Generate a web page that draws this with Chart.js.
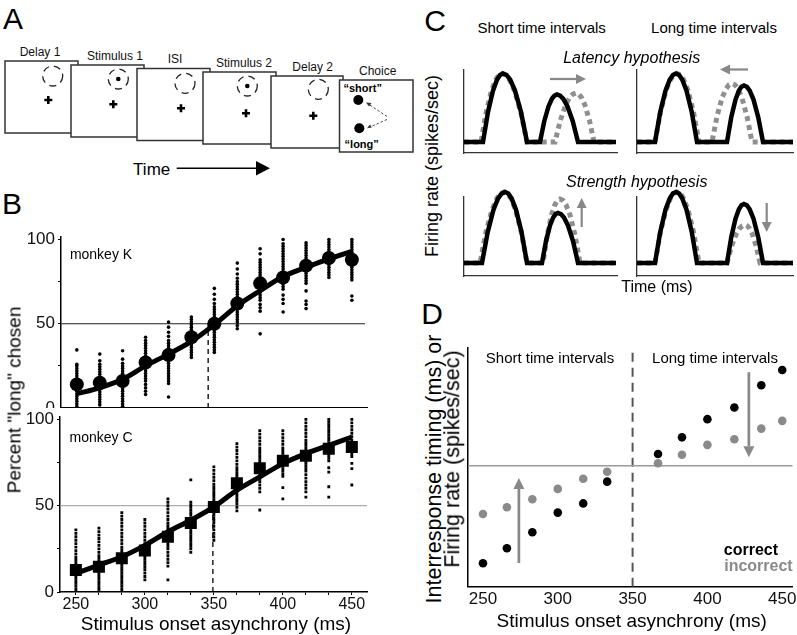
<!DOCTYPE html>
<html><head><meta charset="utf-8">
<script src="https://cdn.jsdelivr.net/npm/chart.js@4.4.1/dist/chart.umd.min.js"></script>
<style>
html,body{margin:0;padding:0;background:#fff;}
#fig{position:relative;width:797px;height:635px;overflow:hidden;font-family:"Liberation Sans",Arial,Helvetica,sans-serif;color:#000;}
.t{position:absolute;white-space:nowrap;transform:translate(-50%,-50%);line-height:1;}
.r{transform:translate(-50%,-50%) rotate(-90deg);}
.rt{position:absolute;white-space:nowrap;transform:translate(-100%,-50%);line-height:1;}
canvas{position:absolute;}
svg{position:absolute;left:0;top:0;}
</style></head><body>
<div id="fig">
<svg width="420" height="185" viewBox="0 0 420 185" font-family="Liberation Sans, Arial, sans-serif">
  <rect x="5" y="61" width="73" height="72" fill="#fff" stroke="#333" stroke-width="1.5"/>
  <circle cx="52.7" cy="76" r="10" fill="none" stroke="#222" stroke-width="1.3" stroke-dasharray="7 5"/>
  <path d="M44.3 100h8M48.3 96v8" stroke="#000" stroke-width="2.6"/>
  <rect x="71" y="65" width="73" height="72" fill="#fff" stroke="#333" stroke-width="1.5"/>
  <circle cx="118.3" cy="79" r="10" fill="none" stroke="#222" stroke-width="1.3" stroke-dasharray="7 5"/>
  <circle cx="118.3" cy="79" r="2.3" fill="#000"/>
  <path d="M109.3 104.3h8M113.3 100.3v8" stroke="#000" stroke-width="2.6"/>
  <rect x="137" y="68.5" width="73" height="72" fill="#fff" stroke="#333" stroke-width="1.5"/>
  <circle cx="185" cy="83.3" r="10" fill="none" stroke="#222" stroke-width="1.3" stroke-dasharray="7 5"/>
  <path d="M177 108.3h8M181 104.3v8" stroke="#000" stroke-width="2.6"/>
  <rect x="203" y="72" width="73" height="72" fill="#fff" stroke="#333" stroke-width="1.5"/>
  <circle cx="247.3" cy="86" r="10" fill="none" stroke="#222" stroke-width="1.3" stroke-dasharray="7 5"/>
  <circle cx="247.3" cy="86" r="2.3" fill="#000"/>
  <path d="M242 113.3h8M246 109.3v8" stroke="#000" stroke-width="2.6"/>
  <rect x="271" y="76" width="72" height="72" fill="#fff" stroke="#333" stroke-width="1.5"/>
  <circle cx="318.3" cy="89.3" r="10" fill="none" stroke="#222" stroke-width="1.3" stroke-dasharray="7 5"/>
  <path d="M309.3 115.7h8M313.3 111.7v8" stroke="#000" stroke-width="2.6"/>
  <rect x="339.5" y="80" width="73.5" height="72" fill="#fff" stroke="#333" stroke-width="1.5"/>
  <circle cx="358.3" cy="100" r="5" fill="#000"/>
  <circle cx="359.3" cy="128.3" r="5" fill="#000"/>
  <path d="M387 116.5L369 104.5M387 119.5L370 127" stroke="#333" stroke-width="0.9" stroke-dasharray="2.5 2"/>
  <path d="M366 102.5l5.5 0.5l-2.5 3.5z M367 128.2l3-3.6l1.8 3z" fill="#333"/>
  <g font-size="12" text-anchor="middle" fill="#111">
    <text x="40" y="55.5">Delay 1</text>
    <text x="115" y="59.5">Stimulus 1</text>
    <text x="175" y="63">ISI</text>
    <text x="244" y="66.5">Stimulus 2</text>
    <text x="312.7" y="70.5">Delay 2</text>
    <text x="377.7" y="74.5">Choice</text>
  </g>
  <g font-size="11" font-weight="bold" text-anchor="middle">
    <text x="362.7" y="92">&#8220;short&#8221;</text>
    <text x="361.7" y="147.5">&#8220;long&#8221;</text>
  </g>
  <text x="151.7" y="174.5" font-size="17" text-anchor="middle">Time</text>
  <path d="M176.7 168.3H258" stroke="#000" stroke-width="1.5"/>
  <path d="M256 161L270 168.3L256 175.6z" fill="#000"/>
</svg>
</div>
<script>
// ---------------- DATA ----------------
// Panel B: stimulus onset asynchronies (ms)
const SOA = [250, 266.7, 283.3, 300, 316.7, 333.3, 350, 366.7, 383.3, 400, 416.7, 433.3, 450];
const SOA_LABELS = [250, 300, 350, 400, 450];
const PCT_TICKS = [0, 25, 50, 75, 100];
const PCT_LABELS = [0, 50, 100];
// monkey K: mean percent "long" chosen, fitted curve, single sessions
const K_MEAN = [14, 15, 16, 27, 31.5, 42, 50, 62, 74, 77.5, 84.5, 89, 88];
const K_FIT = [8.5, 12, 17, 25, 32, 39.5, 49.5, 60.7, 69.6, 78, 83.5, 88.5, 93];
const K_SESS = [
  [34.5, 26, 25, 23.5, 22, 20.5, 19, 17.5, 16, 14.5, 13, 11.5, 10, 8.5, 7, 5.5, 4, 2.5, 1, 0],
  [32, 28, 26, 24.5, 23, 21.5, 20, 18.5, 17, 15.5, 14, 12.5, 11, 9.5, 8, 6.5, 5, 3.5, 2, 0],
  [34, 29, 26.5, 25, 23.5, 22, 20.5, 19, 17.5, 16, 14.5, 13, 11.5, 10, 8.5, 7, 5.5, 4, 2.5, 1, 0],
  [42, 40, 38.5, 37, 35.5, 34, 32.5, 31, 29.5, 28, 26.5, 25, 23.5, 22, 20.5, 19, 17.5, 16, 14, 12, 10, 8],
  [51, 48, 45, 42.5, 40, 38.5, 37, 35.5, 34, 32.5, 31, 29.5, 28, 26.5, 25, 23.5, 22, 20.5, 19, 17.5, 16, 14.5, 6.5],
  [54, 52.5, 51, 49.5, 48, 46.5, 45, 43.5, 42, 40.5, 39, 37.5, 36, 34.5, 33, 31.5, 30],
  [71, 67.5, 64.5, 62, 60, 58.5, 57, 55.5, 54, 52.5, 51, 49.5, 48, 46.5, 45, 43.5, 42, 40.5, 39, 37.5, 36, 34.5, 33],
  [86, 82.5, 79.5, 77, 75, 73.5, 72, 70.5, 69, 67.5, 66, 64.5, 63, 61.5, 60, 58.5, 57, 55.5, 54, 52.5, 51, 49, 47],
  [94.5, 91.5, 88, 86.5, 85, 83.5, 82, 80.5, 79, 77.5, 76, 74.5, 73, 71.5, 70, 68.5, 67, 65.5, 64, 61.5, 59.5, 57.5, 44],
  [100, 97.5, 96, 94.5, 93, 91.5, 90, 88.5, 87, 85.5, 84, 82.5, 81, 79.5, 78, 76.5, 75, 73.5, 72, 70.5, 67, 64.5, 62, 57],
  [98, 96.5, 95, 93.5, 92, 90.5, 89, 87.5, 86, 84.5, 83, 81.5, 80, 78.5, 77, 75.5, 74, 69.5, 63.5, 61.5, 59],
  [100, 98.5, 97, 95.5, 94, 92.5, 91, 89.5, 88, 86.5, 85, 83.5, 82, 80.5, 79, 77.5],
  [100, 98.5, 97, 95.5, 94, 92.5, 91, 89.5, 88, 86.5, 85, 83.5, 82, 80.5, 79, 77.5, 76, 66.5, 64]
];
const K_CRITERION = 345.5;
// monkey C
const C_MEAN = [12.7, 14.6, 19.6, 24, 32, 40, 49.3, 63, 71.7, 76, 79, 83, 84];
const C_FIT = [10.8, 15.6, 20.4, 27, 34.9, 41.6, 49.3, 59, 66.7, 74.4, 80.2, 85, 89.8];
const C_SESS = [
  [36, 34, 32, 30, 28, 26, 24, 22, 20, 18.5, 17, 15.5, 14, 12.5, 11, 9.5, 8, 6.5, 5, 3.5, 2, 0.5],
  [37, 35, 33, 31, 29, 27, 25, 23, 21, 19.5, 18, 16.5, 15, 13.5, 12, 10.5, 9, 7.5, 6, 4.5, 3, 1.5, 0],
  [46, 44, 42, 40, 38, 36, 34, 32, 30, 28, 26, 24.5, 23, 21.5, 20, 18.5, 17, 15.5, 14, 12.5, 11, 9.5, 8, 6.5, 5, 3.5, 2, 0.5],
  [42, 40, 38, 36, 34, 32, 30, 28, 26.5, 25, 23.5, 22, 20.5, 19, 17.5, 16, 14.5, 13, 11, 9, 7],
  [54, 52, 50, 48, 46, 44, 42, 40, 38.5, 37, 35.5, 34, 32.5, 31, 29.5, 28, 26.5, 25, 23, 21, 19, 17, 15, 7],
  [65, 52, 50.5, 49, 47.5, 46, 44.5, 43, 41.5, 40, 38.5, 37, 35.5, 34, 32.5, 31, 29.5, 28, 26.5, 25, 23],
  [72.5, 70.5, 68.5, 66.5, 64.5, 62.5, 61, 59.5, 58, 56.5, 55, 53.5, 52, 50.5, 49, 47.5, 46, 44.5, 43, 41.5, 40, 38, 36, 34, 32, 30],
  [86, 84, 82, 80, 78, 76, 74, 72, 70.5, 69, 67.5, 66, 64.5, 63, 61.5, 60, 58.5, 57, 55.5, 54, 52.5, 51, 49, 47],
  [93.5, 91.5, 89.5, 87.5, 85.5, 83.5, 82, 80.5, 79, 77.5, 76, 74.5, 73, 71.5, 70, 68.5, 67, 65.5, 64, 62, 60, 58, 47.5],
  [93.5, 91.5, 89.5, 87.5, 85.5, 83.5, 82, 80.5, 79, 77.5, 76, 74.5, 73, 71.5, 70, 68.5, 67, 60.5, 54],
  [100, 98, 96, 94, 92, 90, 88, 86.5, 85, 83.5, 82, 80.5, 79, 77.5, 76, 74.5, 73, 71.5, 70, 68, 66, 64, 62, 60, 58, 55],
  [100, 98.5, 97, 95.5, 94, 92.5, 91, 89.5, 88, 86.5, 85, 83.5, 82, 80.5, 79, 77.5, 76, 72, 69.5, 61, 55],
  [100, 98, 96, 94, 92, 90, 88, 86, 84, 82, 80, 78.5, 74.5, 71.5, 62]
];
const C_CRITERION = 349.3;
const REF_PCT = 50;

// Panel C: schematic firing-rate traces [time, rate] (arbitrary units)
const C_TL_BLACK = [[0,11],[19,11],[24,41],[29,62.4],[33,73.3],[36,78],[39,79.5],[42.6,78],[46.2,73.3],[51,62.4],[57,41],[63,11],
  [76,11],[80.25,31.8],[84.5,46.6],[87.9,54.2],[90.45,57.4],[93,58.5],[96.15,57.4],[99.3,54.2],[103.5,46.6],[108.75,31.8],[114,11],[152,11]];
const C_TL_GREY = [[0,11],[17,11],[22.25,41],[27.5,62.4],[31.7,73.3],[34.85,78],[38,79.5],[41.75,78],[45.5,73.3],[50.5,62.4],[56.75,41],[63,11],
  [91,11],[96.25,32.4],[101.5,47.75],[105.7,55.6],[108.85,58.9],[112,60],[114.7,58.9],[117.4,55.6],[121,47.75],[125.5,32.4],[130,11],[152,11]];
const C_TR_BLACK = [[0,11],[18,11],[23.25,41],[28.5,62.4],[32.7,73.3],[35.85,78],[39,79.5],[42.15,78],[45.3,73.3],[49.5,62.4],[54.75,41],[60,11],
  [90,11],[94.25,35.7],[98.5,53.4],[101.9,62.4],[104.45,66.2],[107,67.5],[109.85,66.2],[112.7,62.4],[116.5,53.4],[121.25,35.7],[126,11],[156,11]];
const C_TR_GREY = [[0,11],[18,11],[23.5,41],[29,62.4],[33.4,73.3],[36.7,78],[40,79.5],[43.3,78],[46.6,73.3],[51,62.4],[56.5,41],[62,11],
  [75,11],[80,36.6],[85,54.9],[89,64.2],[92,68.2],[95,69.5],[98,68.2],[101,64.2],[105,54.9],[110,36.6],[115,11],[156,11]];
const C_BL_BLACK = [[0,13],[18,13],[23.75,44.1],[29.5,66.25],[34.1,77.6],[37.55,82.4],[41,84],[44.3,82.4],[47.6,77.6],[52,66.25],[57.5,44.1],[63,13],
  [78,13],[82,34.9],[86,50.5],[89.2,58.5],[91.6,61.9],[94,63],[97,61.9],[100,58.5],[104,50.5],[109,34.9],[114,13],[152,13]];
const C_BL_GREY = [[0,13],[16,13],[22,44.1],[28,66.25],[32.8,77.6],[36.4,82.4],[40,84],[43.45,82.4],[46.9,77.6],[51.5,66.25],[57.25,44.1],[63,13],
  [79,13],[83.25,41],[87.5,61],[90.9,71.2],[93.45,75.6],[96,77],[99,75.6],[102,71.2],[106,61],[111,41],[116,13],[152,13]];
const C_BR_BLACK = [[0,13],[18,13],[23.25,44.1],[28.5,66.25],[32.7,77.6],[35.85,82.4],[39,84],[42.15,82.4],[45.3,77.6],[49.5,66.25],[54.75,44.1],[60,13],
  [90,13],[94.25,38.8],[98.5,57.25],[101.9,66.7],[104.45,70.7],[107,72],[109.85,70.7],[112.7,66.7],[116.5,57.25],[121.25,38.8],[126,13],[156,13]];
const C_BR_GREY = [[0,13],[18,13],[23.5,44.1],[29,66.25],[33.4,77.6],[36.7,82.4],[40,84],[43.3,82.4],[46.6,77.6],[51,66.25],[56.5,44.1],[62,13],
  [90,13],[94.5,29.6],[99,41.5],[102.6,47.6],[105.3,50.1],[108,51],[110.25,50.1],[112.5,47.6],[115.5,41.5],[119.25,29.6],[123,13],[156,13]];
const C_ARROWS_TL = [{from:[86,74], to:[122,74]}];
const C_ARROWS_TR = [{from:[111,83.5], to:[83,83.5]}];
const C_ARROWS_BL = [{from:[117.7,49], to:[117.7,78]}];
const C_ARROWS_BR = [{from:[129.7,73], to:[129.7,44]}];

// Panel D
const D_SOA = [250, 266, 283, 300, 317, 333, 367, 383, 400, 418, 436, 450];
const D_CORRECT = [9.7, 15.9, 22.5, 30.6, 34.4, 43.4, 54.8, 61.7, 69.2, 74, 83.2, 89.5];
const D_INCORRECT = [30, 32.8, 36.1, 40.4, 44.6, 47.5, 51, 54.5, 58.6, 60.9, 65.3, 68.5];
const D_REF = 50;
const D_BOUNDARY = 350;
const D_ARROWS = [{from:[274,9.8], to:[274,44.9]}, {from:[427.7,88.6], to:[427.7,53.5]}];

// ---------------- RENDERING ----------------
Chart.defaults.font.family = '"Liberation Sans", Arial, Helvetica, sans-serif';
Chart.defaults.color = '#000';
Chart.defaults.animation = false;
Chart.defaults.plugins.legend.display = false;
Chart.defaults.plugins.tooltip.enabled = false;

const arrowPlugin = {
  id: 'arrows',
  afterDatasetsDraw(chart, args, opts) {
    const items = opts.items || [];
    const {ctx} = chart; const sx = chart.scales.x, sy = chart.scales.y;
    items.forEach(a => {
      const x1 = sx.getPixelForValue(a.from[0]), y1 = sy.getPixelForValue(a.from[1]);
      const x2 = sx.getPixelForValue(a.to[0]), y2 = sy.getPixelForValue(a.to[1]);
      const ang = Math.atan2(y2 - y1, x2 - x1);
      const hl = opts.headLength, hw = opts.headWidth;
      const bx = x2 - hl * Math.cos(ang), by = y2 - hl * Math.sin(ang);
      ctx.save();
      ctx.strokeStyle = opts.color; ctx.fillStyle = opts.color; ctx.lineWidth = opts.width;
      ctx.beginPath(); ctx.moveTo(x1, y1); ctx.lineTo(bx, by); ctx.stroke();
      ctx.beginPath(); ctx.moveTo(x2, y2);
      ctx.lineTo(bx + hw / 2 * Math.sin(ang), by - hw / 2 * Math.cos(ang));
      ctx.lineTo(bx - hw / 2 * Math.sin(ang), by + hw / 2 * Math.cos(ang));
      ctx.closePath(); ctx.fill();
      ctx.restore();
    });
  }
};

const fig = document.getElementById('fig');
const svgEl = fig.querySelector('svg');
function makeCanvas(area, m, bg) {
  const c = document.createElement('canvas');
  const w = area.r - area.l + m.l + m.r, h = area.b - area.t + m.t + m.b;
  c.width = Math.round(w); c.height = Math.round(h);
  c.style.left = (area.l - m.l) + 'px'; c.style.top = (area.t - m.t) + 'px';
  c.style.width = Math.round(w) + 'px'; c.style.height = Math.round(h) + 'px';
  if (bg) c.style.background = bg;
  fig.insertBefore(c, svgEl);
  return c;
}
function fixY(w) { return s => { s.width = w; s.paddingTop = 0; s.paddingBottom = 0; }; }
function fixX(h) { return s => { s.height = h; s.paddingLeft = 0; s.paddingRight = 0; }; }
const pts = (xs, ys) => xs.map((x, i) => ({x, y: ys[i]}));
const pairs = arr => arr.map(p => ({x: p[0], y: p[1]}));

function panelB(area, m, yW, xH, cfg) {
  const c = makeCanvas(area, m, cfg.bg);
  const xMin = cfg.xMin, xMax = cfg.xMax;
  new Chart(c, {
    type: 'scatter',
    data: { datasets: [
      { data: pts(SOA, cfg.mean), pointStyle: cfg.meanStyle, pointRadius: cfg.meanR, backgroundColor: '#000', borderWidth: 0, order: 0 },
      { data: pts(SOA, cfg.fit), showLine: true, borderColor: '#000', borderWidth: 5, pointRadius: 0, cubicInterpolationMode: 'monotone', order: 1 },
      { data: SOA.flatMap((x, i) => cfg.sess[i].map(v => ({x, y: v}))), pointStyle: cfg.dotStyle, pointRadius: cfg.dotR, backgroundColor: '#000', borderWidth: 0, order: 2 },
      { data: [{x: xMin, y: REF_PCT}, {x: cfg.refEnd, y: REF_PCT}], showLine: true, borderColor: cfg.refColor, borderWidth: 1, pointRadius: 0, order: 3 },
      { data: [{x: cfg.crit, y: 0}, {x: cfg.crit, y: REF_PCT}], showLine: true, borderColor: '#000', borderWidth: 1.3, borderDash: [5, 4], pointRadius: 0, order: 3 }
    ]},
    options: {
      responsive: false, devicePixelRatio: 1,
      layout: { padding: { left: m.l - yW, top: m.t, right: m.r, bottom: m.b - xH } },
      scales: {
        x: { type: 'linear', min: xMin, max: xMax,
          afterBuildTicks: s => { s.ticks = SOA.map(v => ({value: v})); },
          afterFit: fixX(xH),
          ticks: { autoSkip: false, maxRotation: 0, padding: 0, font: {size: 16}, color: '#111',
            callback: v => (cfg.xLabels && SOA_LABELS.includes(v)) ? String(v) : '' },
          grid: { display: true, drawOnChartArea: false, drawTicks: true, tickLength: 3, color: '#000', lineWidth: 1 },
          border: { display: true, color: '#000', width: 1.5 } },
        y: { type: 'linear', min: 0, max: cfg.yMax,
          afterBuildTicks: s => { s.ticks = PCT_TICKS.map(v => ({value: v})); },
          afterFit: fixY(yW),
          ticks: { padding: 3, font: {size: 17}, color: '#111', callback: v => PCT_LABELS.includes(v) ? String(v) : '' },
          grid: { display: true, drawOnChartArea: false, drawTicks: true, tickLength: 3, color: '#000', lineWidth: 1 },
          border: { display: true, color: '#000', width: 1.5 } }
      }
    }
  });
}

panelB({l: 61, r: 367, t: 236.5, b: 407}, {l: 40, t: 8, r: 12, b: 10}, 36, 6,
  { mean: K_MEAN, fit: K_FIT, sess: K_SESS, meanStyle: 'circle', meanR: 7, dotStyle: 'circle', dotR: 1.8,
    crit: K_CRITERION, refColor: '#222', refEnd: 459.5, xMin: 238.5, xMax: 461, yMax: 101.5, xLabels: false });
panelB({l: 60, r: 367, t: 416, b: 592}, {l: 40, t: 8, r: 12, b: 43}, 36, 22,
  { mean: C_MEAN, fit: C_FIT, sess: C_SESS, meanStyle: 'rect', meanR: 8.5, dotStyle: 'rect', dotR: 2,
    crit: C_CRITERION, refColor: '#999', refEnd: 461, xMin: 238.5, xMax: 461, yMax: 101.7, xLabels: true, bg: '#fff' });

function panelC(area, W, H, black, grey, arrows) {
  const m = {l: 9, t: 14, r: 3, b: 6};
  const c = makeCanvas(area, m);
  new Chart(c, {
    type: 'scatter',
    data: { datasets: [
      { data: pairs(black), showLine: true, borderColor: '#000', borderWidth: 4.5, pointRadius: 0, clip: false, order: 0 },
      { data: pairs(grey), showLine: true, borderColor: '#8f8f8f', borderWidth: 5, borderDash: [5, 4], pointRadius: 0, clip: false, order: 1 }
    ]},
    options: {
      responsive: false, devicePixelRatio: 1,
      layout: { padding: { left: m.l, top: m.t, right: m.r, bottom: m.b } },
      plugins: { arrows: { items: arrows, color: '#888', width: 2.2, headLength: 10, headWidth: 10 } },
      scales: {
        x: { type: 'linear', min: 0, max: W, afterFit: fixX(0), ticks: {display: false}, grid: {display: false, drawTicks: false}, border: {display: true, color: '#333', width: 1.3} },
        y: { type: 'linear', min: 0, max: H, afterFit: fixY(0), ticks: {display: false}, grid: {display: false, drawTicks: false}, border: {display: true, color: '#333', width: 1.3} }
      }
    },
    plugins: [arrowPlugin]
  });
}
panelC({l: 464, r: 617, t: 70, b: 153}, 153, 83, C_TL_BLACK, C_TL_GREY, C_ARROWS_TL);
panelC({l: 637, r: 793, t: 70, b: 153}, 156, 83, C_TR_BLACK, C_TR_GREY, C_ARROWS_TR);
panelC({l: 464, r: 617, t: 197, b: 276}, 153, 79, C_BL_BLACK, C_BL_GREY, C_ARROWS_BL);
panelC({l: 637, r: 793, t: 197, b: 276}, 156, 79, C_BR_BLACK, C_BR_GREY, C_ARROWS_BR);

(function panelD() {
  const area = {l: 468, r: 793, t: 348, b: 586.7};
  const m = {l: 13, t: 18, r: 4, b: 48.3};
  const xH = 22;
  const c = makeCanvas(area, m);
  const xMin = 240, xMax = 457, yMax = 98.6;
  new Chart(c, {
    type: 'scatter',
    data: { datasets: [
      { data: pts(D_SOA, D_CORRECT), pointRadius: 4.3, backgroundColor: '#000', borderWidth: 0, order: 0 },
      { data: pts(D_SOA, D_INCORRECT), pointRadius: 4.3, backgroundColor: '#8a8a8a', borderWidth: 0, order: 1 },
      { data: [{x: xMin, y: D_REF}, {x: xMax, y: D_REF}], showLine: true, borderColor: '#9a9a9a', borderWidth: 1.5, pointRadius: 0, order: 2 },
      { data: [{x: D_BOUNDARY, y: 0}, {x: D_BOUNDARY, y: yMax}], showLine: true, borderColor: '#555', borderWidth: 2, borderDash: [9, 6], pointRadius: 0, order: 3 }
    ]},
    options: {
      responsive: false, devicePixelRatio: 1,
      layout: { padding: { left: m.l, top: m.t, right: m.r, bottom: m.b - xH } },
      plugins: { arrows: { items: D_ARROWS, color: '#888', width: 2.7, headLength: 11, headWidth: 11 } },
      scales: {
        x: { type: 'linear', min: xMin, max: xMax,
          afterBuildTicks: s => { s.ticks = SOA_LABELS.map(v => ({value: v})); },
          afterFit: fixX(xH),
          ticks: { autoSkip: false, maxRotation: 0, padding: 2, font: {size: 17}, color: '#111' },
          grid: { display: false, drawTicks: false },
          border: { display: true, color: '#000', width: 1.5 } },
        y: { type: 'linear', min: 0, max: yMax, afterFit: fixY(0), ticks: {display: false},
          grid: { display: false, drawTicks: false }, border: { display: true, color: '#000', width: 1.5 } }
      }
    },
    plugins: [arrowPlugin]
  });
})();

// ---------------- TEXT ----------------
const TEXTS = [
  {s: 'A', x: 13, y: 19, f: 30},
  {s: 'B', x: 12, y: 204, f: 30},
  {s: 'C', x: 435, y: 21, f: 30},
  {s: 'D', x: 432, y: 314, f: 30},
  {s: 'monkey K', x: 101, y: 254, f: 14},
  {s: 'monkey C', x: 101, y: 437, f: 14},
  {s: 'Percent "long" chosen', x: 14, y: 400, f: 19, rot: true},
  {s: 'Stimulus onset asynchrony (ms)', x: 216, y: 623, f: 19},
  {s: 'Short time intervals', x: 541.7, y: 27, f: 15},
  {s: 'Long time intervals', x: 714, y: 27, f: 15},
  {s: 'Latency hypothesis', x: 631.7, y: 58, f: 16, it: true},
  {s: 'Strength hypothesis', x: 636.7, y: 182, f: 16, it: true},
  {s: 'Firing rate (spikes/sec)', x: 432, y: 166, f: 18, rot: true},
  {s: 'Time (ms)', x: 657, y: 287, f: 16},
  {s: 'Short time intervals', x: 550, y: 357, f: 15},
  {s: 'Long time intervals', x: 715, y: 357, f: 15},
  {s: 'Interresponse timing (ms) or', x: 435, y: 468.5, f: 21.5, rot: true},
  {s: 'Firing rate (spikes/sec)', x: 453, y: 458.5, f: 21.5, rot: true},
  {s: 'Stimulus onset asynchrony (ms)', x: 631.7, y: 620, f: 19}
];
TEXTS.forEach(t => {
  const d = document.createElement('div');
  d.className = 't' + (t.rot ? ' r' : '');
  d.textContent = t.s;
  d.style.left = t.x + 'px'; d.style.top = t.y + 'px'; d.style.fontSize = t.f + 'px';
  if (t.it) d.style.fontStyle = 'italic';
  fig.appendChild(d);
});
[{s: 'correct', x: 778, y: 550, c: '#000'}, {s: 'incorrect', x: 792.7, y: 566, c: '#8a8a8a'}].forEach(t => {
  const d = document.createElement('div');
  d.className = 'rt'; d.textContent = t.s;
  d.style.left = t.x + 'px'; d.style.top = t.y + 'px'; d.style.fontSize = '16px';
  d.style.fontWeight = 'bold'; d.style.color = t.c;
  fig.appendChild(d);
});
</script>
</body></html>
